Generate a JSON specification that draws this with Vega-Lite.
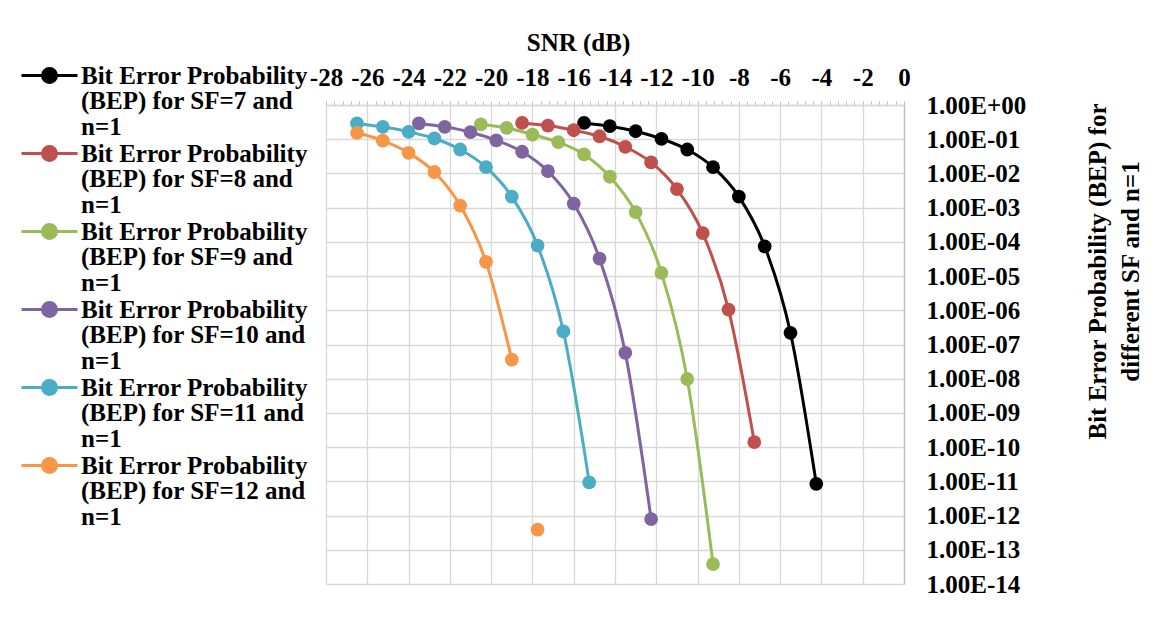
{
  "$schema": "https://vega.github.io/schema/vega-lite/v6.json",
  "width": 578,
  "height": 479,
  "autosize": {"type": "none"},
  "padding": {"left": 326, "top": 105, "right": 255, "bottom": 35},
  "background": "white",
  "config": {
    "font": "Liberation Serif",
    "view": {"stroke": null},
    "axis": {
      "labelFont": "Liberation Serif",
      "labelFontWeight": "bold",
      "labelFontSize": 25,
      "labelColor": "black",
      "titleFont": "Liberation Serif",
      "titleFontWeight": "bold",
      "titleFontSize": 25,
      "titleColor": "black",
      "gridColor": "#d9d9d9",
      "gridWidth": 1.3
    }
  },
  "data": {
    "values": [
      {"series": "Bit Error Probability (BEP) for SF=7 and n=1", "snr": -15.5, "bep": 0.30},
      {"series": "Bit Error Probability (BEP) for SF=7 and n=1", "snr": -14.25, "bep": 0.24},
      {"series": "Bit Error Probability (BEP) for SF=7 and n=1", "snr": -13, "bep": 0.171},
      {"series": "Bit Error Probability (BEP) for SF=7 and n=1", "snr": -11.75, "bep": 0.103},
      {"series": "Bit Error Probability (BEP) for SF=7 and n=1", "snr": -10.5, "bep": 0.05},
      {"series": "Bit Error Probability (BEP) for SF=7 and n=1", "snr": -9.25, "bep": 0.0152},
      {"series": "Bit Error Probability (BEP) for SF=7 and n=1", "snr": -8, "bep": 0.0021},
      {"series": "Bit Error Probability (BEP) for SF=7 and n=1", "snr": -6.75, "bep": 7.4e-5},
      {"series": "Bit Error Probability (BEP) for SF=7 and n=1", "snr": -5.5, "bep": 2.2e-7},
      {"series": "Bit Error Probability (BEP) for SF=7 and n=1", "snr": -4.25, "bep": 8.5e-12},
      {"series": "Bit Error Probability (BEP) for SF=8 and n=1", "snr": -18.5, "bep": 0.30},
      {"series": "Bit Error Probability (BEP) for SF=8 and n=1", "snr": -17.25, "bep": 0.25},
      {"series": "Bit Error Probability (BEP) for SF=8 and n=1", "snr": -16, "bep": 0.183},
      {"series": "Bit Error Probability (BEP) for SF=8 and n=1", "snr": -14.75, "bep": 0.122},
      {"series": "Bit Error Probability (BEP) for SF=8 and n=1", "snr": -13.5, "bep": 0.06},
      {"series": "Bit Error Probability (BEP) for SF=8 and n=1", "snr": -12.25, "bep": 0.021},
      {"series": "Bit Error Probability (BEP) for SF=8 and n=1", "snr": -11, "bep": 0.0035},
      {"series": "Bit Error Probability (BEP) for SF=8 and n=1", "snr": -9.75, "bep": 1.8e-4},
      {"series": "Bit Error Probability (BEP) for SF=8 and n=1", "snr": -8.5, "bep": 1.05e-6},
      {"series": "Bit Error Probability (BEP) for SF=8 and n=1", "snr": -7.25, "bep": 1.4e-10},
      {"series": "Bit Error Probability (BEP) for SF=9 and n=1", "snr": -20.5, "bep": 0.27},
      {"series": "Bit Error Probability (BEP) for SF=9 and n=1", "snr": -19.25, "bep": 0.215},
      {"series": "Bit Error Probability (BEP) for SF=9 and n=1", "snr": -18, "bep": 0.137},
      {"series": "Bit Error Probability (BEP) for SF=9 and n=1", "snr": -16.75, "bep": 0.082},
      {"series": "Bit Error Probability (BEP) for SF=9 and n=1", "snr": -15.5, "bep": 0.036},
      {"series": "Bit Error Probability (BEP) for SF=9 and n=1", "snr": -14.25, "bep": 0.008},
      {"series": "Bit Error Probability (BEP) for SF=9 and n=1", "snr": -13, "bep": 7.4e-4},
      {"series": "Bit Error Probability (BEP) for SF=9 and n=1", "snr": -11.75, "bep": 1.24e-5},
      {"series": "Bit Error Probability (BEP) for SF=9 and n=1", "snr": -10.5, "bep": 9.8e-9},
      {"series": "Bit Error Probability (BEP) for SF=9 and n=1", "snr": -9.25, "bep": 3.8e-14},
      {"series": "Bit Error Probability (BEP) for SF=10 and n=1", "snr": -23.5, "bep": 0.29},
      {"series": "Bit Error Probability (BEP) for SF=10 and n=1", "snr": -22.25, "bep": 0.23},
      {"series": "Bit Error Probability (BEP) for SF=10 and n=1", "snr": -21, "bep": 0.16},
      {"series": "Bit Error Probability (BEP) for SF=10 and n=1", "snr": -19.75, "bep": 0.093},
      {"series": "Bit Error Probability (BEP) for SF=10 and n=1", "snr": -18.5, "bep": 0.043},
      {"series": "Bit Error Probability (BEP) for SF=10 and n=1", "snr": -17.25, "bep": 0.0116},
      {"series": "Bit Error Probability (BEP) for SF=10 and n=1", "snr": -16, "bep": 0.00132},
      {"series": "Bit Error Probability (BEP) for SF=10 and n=1", "snr": -14.75, "bep": 3.24e-5},
      {"series": "Bit Error Probability (BEP) for SF=10 and n=1", "snr": -13.5, "bep": 5.7e-8},
      {"series": "Bit Error Probability (BEP) for SF=10 and n=1", "snr": -12.25, "bep": 7.9e-13},
      {"series": "Bit Error Probability (BEP) for SF=11 and n=1", "snr": -26.5, "bep": 0.29},
      {"series": "Bit Error Probability (BEP) for SF=11 and n=1", "snr": -25.25, "bep": 0.23},
      {"series": "Bit Error Probability (BEP) for SF=11 and n=1", "snr": -24, "bep": 0.165},
      {"series": "Bit Error Probability (BEP) for SF=11 and n=1", "snr": -22.75, "bep": 0.105},
      {"series": "Bit Error Probability (BEP) for SF=11 and n=1", "snr": -21.5, "bep": 0.05},
      {"series": "Bit Error Probability (BEP) for SF=11 and n=1", "snr": -20.25, "bep": 0.0152},
      {"series": "Bit Error Probability (BEP) for SF=11 and n=1", "snr": -19, "bep": 0.0021},
      {"series": "Bit Error Probability (BEP) for SF=11 and n=1", "snr": -17.75, "bep": 7.8e-5},
      {"series": "Bit Error Probability (BEP) for SF=11 and n=1", "snr": -16.5, "bep": 2.4e-7},
      {"series": "Bit Error Probability (BEP) for SF=11 and n=1", "snr": -15.25, "bep": 9.4e-12},
      {"series": "Bit Error Probability (BEP) for SF=12 and n=1", "snr": -26.5, "bep": 0.154},
      {"series": "Bit Error Probability (BEP) for SF=12 and n=1", "snr": -25.25, "bep": 0.091},
      {"series": "Bit Error Probability (BEP) for SF=12 and n=1", "snr": -24, "bep": 0.040},
      {"series": "Bit Error Probability (BEP) for SF=12 and n=1", "snr": -22.75, "bep": 0.011},
      {"series": "Bit Error Probability (BEP) for SF=12 and n=1", "snr": -21.5, "bep": 0.00115},
      {"series": "Bit Error Probability (BEP) for SF=12 and n=1", "snr": -20.25, "bep": 2.6e-5},
      {"series": "Bit Error Probability (BEP) for SF=12 and n=1", "snr": -19, "bep": 3.6e-8},
      {"series": "Bit Error Probability (BEP) for SF=12 and n=1", "snr": -18.375, "bep": null},
      {"series": "Bit Error Probability (BEP) for SF=12 and n=1", "snr": -17.75, "bep": 3.9e-13}
    ]
  },
  "encoding": {
    "x": {
      "field": "snr",
      "type": "quantitative",
      "scale": {"domain": [-28, 0], "nice": false, "zero": false},
      "axis": {
        "orient": "top",
        "title": "SNR (dB)",
        "titleX": 252,
        "titleY": -55,
        "titleBaseline": "alphabetic",
        "values": [-28, -27.6, -27.2, -26.8, -26.4, -26, -25.6, -25.2, -24.8, -24.4, -24, -23.6, -23.2, -22.8, -22.4, -22, -21.6, -21.2, -20.8, -20.4, -20, -19.6, -19.2, -18.8, -18.4, -18, -17.6, -17.2, -16.8, -16.4, -16, -15.6, -15.2, -14.8, -14.4, -14, -13.6, -13.2, -12.8, -12.4, -12, -11.6, -11.2, -10.8, -10.4, -10, -9.6, -9.2, -8.8, -8.4, -8, -7.6, -7.2, -6.8, -6.4, -6, -5.6, -5.2, -4.8, -4.4, -4, -3.6, -3.2, -2.8, -2.4, -2, -1.6, -1.2, -0.8, -0.4, 0],
        "labelExpr": "abs(datum.value % 2) < 0.01 ? toString(datum.value) : ''",
        "labelOverlap": false,
        "labelFlush": false,
        "labelBound": false,
        "labelBaseline": "alphabetic",
        "labelPadding": 16,
        "ticks": true,
        "tickSize": 4,
        "tickColor": "#bfbfbf",
        "tickWidth": 1,
        "domain": true,
        "domainColor": "#d9d9d9",
        "domainWidth": 1.3,
        "grid": true,
        "gridOpacity": {"condition": {"test": "abs(datum.value % 2) < 0.01", "value": 1}, "value": 0}
      }
    },
    "y": {
      "field": "bep",
      "type": "quantitative",
      "scale": {"type": "log", "domain": [1e-14, 1], "nice": false},
      "axis": {
        "orient": "right",
        "values": [1, 0.1, 0.01, 0.001, 0.0001, 1e-5, 1e-6, 1e-7, 1e-8, 1e-9, 1e-10, 1e-11, 1e-12, 1e-13, 1e-14],
        "labelExpr": "'1.00E' + (round(log(datum.value)/LN10) >= 0 ? '+' : '-') + (abs(round(log(datum.value)/LN10)) < 10 ? '0' : '') + abs(round(log(datum.value)/LN10))",
        "labelOverlap": false,
        "labelFlush": false,
        "labelAlign": "left",
        "labelBaseline": "middle",
        "labelPadding": 22,
        "ticks": false,
        "domain": true,
        "domainColor": "#bfbfbf",
        "domainWidth": 1.3,
        "grid": true,
        "title": ["Bit Error Probability (BEP) for", "different SF and n=1"],
        "titleAngle": 270,
        "titleAlign": "center",
        "titleBaseline": "top",
        "titleLineHeight": 33,
        "titleX": 181,
        "titleY": 166
      }
    },
    "color": {
      "field": "series",
      "type": "nominal",
      "scale": {
        "domain": [
          "Bit Error Probability (BEP) for SF=7 and n=1",
          "Bit Error Probability (BEP) for SF=8 and n=1",
          "Bit Error Probability (BEP) for SF=9 and n=1",
          "Bit Error Probability (BEP) for SF=10 and n=1",
          "Bit Error Probability (BEP) for SF=11 and n=1",
          "Bit Error Probability (BEP) for SF=12 and n=1"
        ],
        "range": ["#000000", "#C0504D", "#9BBB59", "#8064A2", "#4BACC6", "#F79646"]
      },
      "legend": {
        "title": null,
        "orient": "none",
        "direction": "vertical",
        "columns": 1,
        "legendX": -289,
        "legendY": -42,
        "padding": 0,
        "rowPadding": 0,
        "symbolType": "M-4,0H4M-1,0A1,1,0,1,0,1,0A1,1,0,1,0,-1,0Z",
        "symbolSize": 196,
        "symbolStrokeWidth": 3,
        "symbolOpacity": 1,
        "labelFont": "Liberation Serif",
        "labelFontWeight": "bold",
        "labelFontSize": 25,
        "labelColor": "black",
        "labelLimit": 0,
        "labelOffset": 19,
        "labelExpr": "[slice(datum.label, 0, 21), slice(datum.label, 22, length(datum.label) - 4), 'n=1']",
        "encoding": {
          "symbols": {
            "fill": {"scale": "color", "field": "value"},
            "stroke": {"scale": "color", "field": "value"}
          },
          "labels": {
            "lineHeight": {"value": 25.6}
          }
        }
      }
    }
  },
  "layer": [
    {"mark": {"type": "line", "strokeWidth": 3, "interpolate": "monotone", "invalid": "break-paths-filter-domains"}},
    {"mark": {"type": "point", "filled": true, "size": 190, "opacity": 1, "strokeWidth": 0}}
  ]
}
